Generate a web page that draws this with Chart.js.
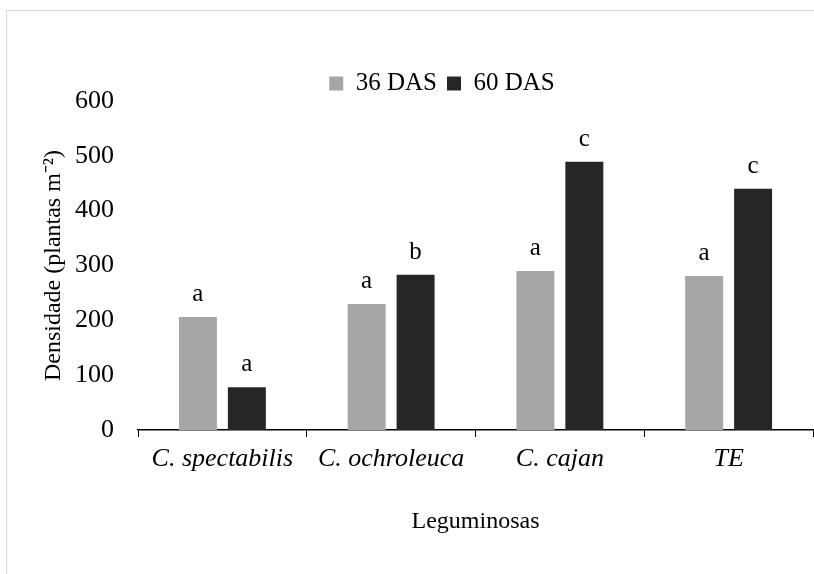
<!DOCTYPE html>
<html>
<head>
<meta charset="utf-8">
<script src="https://cdn.jsdelivr.net/npm/chart.js@4"></script>
<style>
    html, body { margin: 0; padding: 0; background: #fff; overflow: hidden; }
    #frame {
        position: absolute; left: 6px; top: 10px;
        width: 820px; height: 580px;
        border-left: 1px solid #d9d9d9; border-top: 1px solid #d9d9d9;
    }
    #chart-box { position: absolute; left: 7px; top: 11px; width: 807px; height: 563px; }
</style>
</head>
<body>
<div id="frame"></div>
<div id="chart-box"><canvas id="densChart"></canvas></div>
<script>
// dados
const leguminosas = ['C. spectabilis', 'C. ochroleuca', 'C. cajan', 'TE'];
const das36 = [206, 230, 290, 281];
const das60 = [78, 283, 489, 440];
const letras36 = ['a', 'a', 'a', 'a'];
const letras60 = ['a', 'b', 'c', 'c'];
const yTicks = [0, 100, 200, 300, 400, 500, 600];

const serif = "'Liberation Serif', 'Times New Roman', serif";

// letras acima das barras
const letrasPlugin = {
    id: 'letras',
    afterDatasetsDraw(chart) {
        const ctx = chart.ctx;
        const letras = [letras36, letras60];
        ctx.save();
        ctx.font = '25px ' + serif;
        ctx.fillStyle = '#000';
        ctx.textAlign = 'center';
        ctx.textBaseline = 'alphabetic';
        chart.data.datasets.forEach((ds, i) => {
            chart.getDatasetMeta(i).data.forEach((bar, j) => {
                ctx.fillText(letras[i][j], bar.x, bar.y - 16);
            });
        });
        ctx.restore();
    }
};

// desloca a legenda
const legendShift = {
    id: 'legendShift',
    afterLayout(chart) {
        const dx = 32, dy = 5;
        chart.legend.left += dx;
        chart.legend.right += dx;
        chart.legend.top += dy;
        chart.legend.bottom += dy;
    }
};

const ctx = document.getElementById('densChart').getContext('2d');
new Chart(ctx, {
    type: 'bar',
    data: {
        labels: leguminosas,
        datasets: [
            { label: '36 DAS', data: das36, backgroundColor: '#a6a6a6', categoryPercentage: 0.58, barPercentage: 0.776 },
            { label: '60 DAS', data: das60, backgroundColor: '#262626', categoryPercentage: 0.58, barPercentage: 0.776 }
        ]
    },
    options: {
        responsive: true,
        maintainAspectRatio: false,
        animation: false,
        layout: { padding: { top: 45, right: 1, bottom: 0, left: 0 } },
        plugins: {
            legend: {
                position: 'top',
                labels: {
                    font: { family: serif, size: 25 },
                    color: '#000',
                    boxWidth: 14,
                    boxHeight: 14,
                    padding: 10
                }
            },
            tooltip: { enabled: false }
        },
        scales: {
            x: {
                afterFit(axis) { axis.height = 144; },
                grid: { offset: true, drawOnChartArea: false, color: '#000', tickLength: 7 },
                border: { color: '#000', width: 1.5 },
                ticks: { font: { family: serif, size: 26, style: 'italic' }, color: '#000', padding: 7 },
                title: { display: true, text: 'Leguminosas', font: { family: serif, size: 24 }, color: '#000', padding: { bottom: 38 } }
            },
            y: {
                min: 0,
                max: 600,
                afterBuildTicks(axis) { axis.ticks = yTicks.map(v => ({ value: v })); },
                afterFit(axis) { axis.width = 131; },
                grid: { display: false },
                border: { display: false },
                ticks: { font: { family: serif, size: 26 }, color: '#000', padding: 16 },
                title: { display: true, text: 'Densidade (plantas m⁻²)', font: { family: serif, size: 24 }, color: '#000', padding: 32 }
            }
        }
    },
    plugins: [letrasPlugin, legendShift]
});
</script>
</body>
</html>
